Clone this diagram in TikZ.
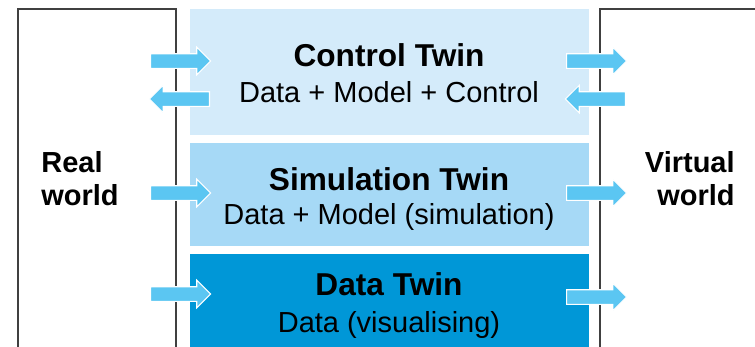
\documentclass[tikz,border=0pt]{standalone}
\usepackage{fontspec}
\setmainfont{Liberation Sans}
\usepackage{tikz}
\usepackage{xcolor}
\usetikzlibrary{shapes.arrows}
\definecolor{ctrlblue}{HTML}{D4EBFA}
\definecolor{simblue}{HTML}{A6D9F6}
\definecolor{datablue}{HTML}{0097D7}
\definecolor{arrowblue}{HTML}{5BC6F2}
\definecolor{framegray}{HTML}{404040}
\newcommand{\TwinWidth}{7.98cm}
\newcommand{\WorldWidth}{3.17cm}

\tikzset{
  world/.style={draw=framegray, line width=1.2pt, anchor=north west, minimum width=\WorldWidth, minimum height=7.6cm, inner sep=0pt},
  twin/.style={anchor=north west, minimum width=\TwinWidth, inner sep=0pt},
  flow/.style={single arrow, anchor=tail, fill=arrowblue, draw=white, line width=0.6pt, inner sep=0pt, inner ysep=0.135cm, minimum height=1.2cm, single arrow head extend=0.13cm, single arrow tip angle=90, single arrow head indent=0pt},
  back/.style={flow, shape border rotate=180},
  title/.style={anchor=base, inner sep=0pt, font=\fontsize{18}{21}\selectfont\bfseries},
  sub/.style={anchor=base, inner sep=0pt, font=\fontsize{16.5}{20}\selectfont},
  worldtext/.style={inner sep=0pt, font=\fontsize{16.5}{18.8}\selectfont\bfseries},
}

\begin{document}
\begin{tikzpicture}[x=0.02cm, y=-0.02cm]
\useasboundingbox (0,0) rectangle (755,346);

\node[world] (real) at (16.5,8) {};% Real world frame
\node[world] (virtual) at (599,8) {};% Virtual world frame

\node[twin, fill=ctrlblue, minimum height=2.52cm] (control) at (190,9) {};
\node[twin, fill=simblue, minimum height=2.06cm] (simulation) at (190,143) {};
\node[twin, fill=datablue, minimum height=2.1cm] (data) at (190,254) {};

\node[title] (controltitle) at (389,66) {Control Twin};
\node[sub] (controlsub) at (389,102.5) {Data + Model + Control};
\node[title] (simtitle) at (389,190) {Simulation Twin};
\node[sub] (simsub) at (389,224) {Data + Model (simulation)};
\node[title] (datatitle) at (389,295) {Data Twin};
\node[sub] (datasub) at (389,332) {Data (visualising)};

\node[worldtext, align=left, anchor=west] (realtext) at (41,179) {Real\\world};
\node[worldtext, align=right, anchor=east] (virtualtext) at (735,179) {Virtual\\world};

%% arrows, left side (placed by their tails)
\node[flow] (ctrlin) at (150,61) {};
\node[back] (ctrlout) at (210,99) {};
\node[flow] (simin) at (150,193) {};
\node[flow] (datain) at (150,294) {};
%% arrows, right side
\node[flow] (ctrltovirt) at (566,61) {};
\node[back] (virttoctrl) at (626,99) {};
\node[flow] (simtovirt) at (566,193) {};
\node[flow] (datatovirt) at (566,297) {};
\end{tikzpicture}
\end{document}
